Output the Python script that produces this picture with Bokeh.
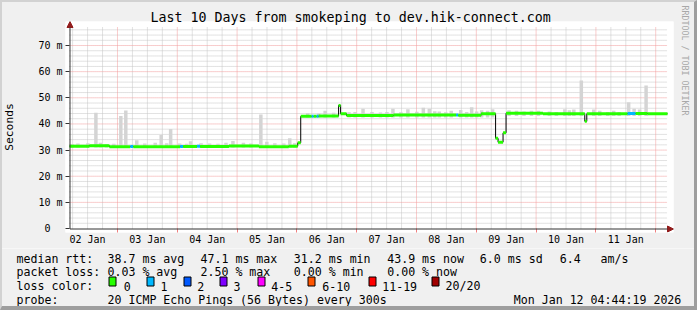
import math
from bokeh.plotting import figure
from bokeh.layouts import column
from bokeh.models import FixedTicker, Arrow, NormalHead, Range1d, Title, InlineStyleSheet
from bokeh.core.properties import value
from bokeh.embed import file_html
from bokeh.resources import INLINE

# ---------------- data ----------------
TITLE = "Last 10 Days from smokeping to dev.hik-connect.com"
START_H = 4 + 44 / 60 + 19 / 3600          # graph starts Jan 2 04:44:19
SPAN_H = 240                                # 10 days
day_labels = ["02 Jan", "03 Jan", "04 Jan", "05 Jan", "06 Jan",
              "07 Jan", "08 Jan", "09 Jan", "10 Jan", "11 Jan"]
y_tick_values = [0, 10, 20, 30, 40, 50, 60, 70]
y_tick_labels = ["0\u00a0\u00a0", "10 m", "20 m", "30 m", "40 m", "50 m", "60 m", "70 m"]
Y_LABEL = "Seconds"

# median rtt (ms), hours since start, loss class index
med_t = [0.0, 8.0, 16.0, 24.4, 25.6, 44.4, 45.6, 51.2, 52.4, 64.0, 76.0, 88.0,
         91.6, 92.8, 97.2, 98.0, 99.2, 100.0, 108.0, 108.8, 111.2, 130.0,
         155.2, 156.0, 165.2, 171.0, 172.0, 174.0, 175.2, 190.0, 206.8, 207.6,
         224.0, 227.2, 232.0]
med_v = [31.5, 31.7, 31.3, 31.4, 31.3, 31.4, 31.4, 31.5, 31.4, 31.6, 31.3, 31.5,
         32.8, 42.9, 42.9, 42.9, 42.9, 43.0, 47.1, 43.9, 43.2, 43.4,
         43.4, 43.3, 43.9, 34.5, 33.0, 36.6, 44.1, 43.9, 41.0, 43.9,
         44.0, 44.0, 43.9]
med_loss = [0, 0, 0, 1, 0, 1, 0, 1, 0, 0, 0, 0,
            0, 0, 1, 0, 1, 0, 0, 0, 0, 0,
            1, 0, 0, 0, 0, 0, 0, 0, 0, 0,
            1, 0, 0]

# smoke (spread of the 20 pings): centre hour, low, high (ms)
smoke_t = [1.0, 3.4, 7.4, 10.6, 12.4, 14.8, 17.8, 20.6, 22.6, 27.0, 30.2, 34.4,
           36.8, 39.0, 40.6, 44.2, 47.0, 48.6, 52.8, 56.2, 59.6, 62.8, 65.6, 69.8,
           72.8, 76.8, 79.2, 82.4, 86.0, 88.4, 90.4,
           95.6, 100.0, 102.6, 106.0, 112.2, 114.6, 117.8, 121.4, 124.8, 127.4,
           129.8, 133.0, 135.8, 139.4, 142.0, 144.4, 146.6, 148.4, 151.0, 153.2,
           157.0, 159.4, 161.4, 163.4, 165.4, 167.8, 169.8,
           176.4, 179.4, 182.4, 185.4, 188.2, 192.6, 195.4, 198.8, 200.6, 202.4,
           205.4, 210.4, 212.8, 216.0, 218.4, 220.6, 224.4, 226.6, 228.8, 231.4,
           234.4, 237.0]
smoke_lo = [31.0] * 31 + [42.5] * 27 + [43.0] * 20
smoke_hi = [32.3, 32.5, 32.6, 44.3, 32.8, 32.3, 32.4, 43.0, 45.1, 33.8, 32.5, 32.8,
            35.8, 32.6, 38.1, 32.5, 32.4, 33.4, 32.6, 32.5, 32.4, 32.8, 33.5, 32.8,
            32.5, 43.6, 33.2, 32.6, 32.5, 34.5, 32.6,
            44.2, 44.0, 45.0, 44.3, 44.5, 44.6, 45.8, 44.6, 44.4, 44.6,
            45.8, 44.5, 45.6, 44.7, 46.2, 45.8, 44.9, 44.8, 44.5, 45.0,
            45.3, 44.6, 46.4, 44.8, 45.2, 45.0, 45.6,
            45.2, 45.0, 44.8, 45.0, 45.0, 44.8, 44.6, 45.6, 45.2, 45.5,
            56.6, 45.5, 45.0, 44.6, 45.0, 44.6, 48.3, 45.8, 45.5, 54.7,
            45.4, 45.0]

loss_labels = ["0", "1", "2", "3", "4-5", "6-10", "11-19", "20/20"]
loss_colors = ["#26ff00", "#00b8ff", "#0059ff", "#7e00ff",
               "#ff00ff", "#ff5500", "#ff0000", "#a10000"]

rtt_row = ["median rtt:", "38.7 ms avg", "47.1 ms max", "31.2 ms min",
           "43.9 ms now", "6.0 ms sd", "6.4", "am/s"]
loss_row = ["packet loss:", "0.03 % avg", "2.50 % max", "0.00 % min", "0.00 % now"]
color_row = "loss color:"
probe_row = ["probe:", "20 ICMP Echo Pings (56 Bytes) every 300s",
             "Mon Jan 12 04:44:19 2026"]
VENDOR = "RRDTOOL / TOBI OETIKER"

# ---------------- geometry ----------------
W, H = 697, 310
HA = 248                         # height of the chart part
FL, FT, FR, FB = 63, 21, 673, 232  # frame edges (canvas px)
X0_PX, Y0_PX = 67, 228           # where t=0 and 0 ms sit
PX_PER_H = 2.5
PX_PER_MS = 26.14 / 10
MONO = "DejaVu Sans Mono"
YTOP = 76.9                       # top of the grid (ms)

x_lo = -(X0_PX - FL) / PX_PER_H
x_hi = (FR - X0_PX) / PX_PER_H
y_lo = -(FB - Y0_PX) / PX_PER_MS
y_hi = (Y0_PX - FT) / PX_PER_MS

p = figure(width=W, height=HA, output_backend="svg", toolbar_location=None,
           x_range=Range1d(x_lo, x_hi), y_range=Range1d(y_lo, y_hi),
           min_border_left=FL, min_border_right=W - FR,
           min_border_top=FT, min_border_bottom=HA - FB)
p.frame_align = False
p.background_fill_color = "#ffffff"
p.border_fill_color = "#f0f0f0"
p.outline_line_color = None
p.grid.visible = False

# title
p.title.text = TITLE
p.title.align = "left"
p.title.offset = 148 - FL
p.title.text_font = MONO
p.title.text_font_size = "13.3px"
p.title.text_font_style = "normal"
p.title.text_color = "#000000"
p.title.standoff = -7

# vendor watermark on the right
p.add_layout(Title(text=VENDOR, align="left", offset=-16, standoff=8,
                   vertical_align="top",
                   text_font=MONO, text_font_size="8.3px", text_font_style="normal",
                   text_color="#a8a8a8"), "right")

midnights = [24 - START_H + 24 * k for k in range(10)]
noons = [12 - START_H + 24 * k for k in range(10)]
six_h = [m + d for m in [midnights[0] - 24] + midnights for d in (6, 12, 18)]
six_h = [t for t in six_h if 0 < t < SPAN_H]
y_minor = [v for v in range(2, 77, 2) if v % 10]

AX = "#333333"
xa = p.xaxis[0]
xa.ticker = FixedTicker(ticks=noons, minor_ticks=midnights)
xa.major_label_overrides = {t: lab for t, lab in zip(noons, day_labels)}
xa.major_tick_line_color = None
xa.major_tick_out = 0
xa.major_tick_in = 0
xa.minor_tick_line_color = "#f08080"
xa.minor_tick_out = 0
xa.minor_tick_in = 4
xa.axis_line_color = None
xa.major_label_standoff = 1
xa.major_label_text_font = MONO
xa.major_label_text_font_size = "10px"
xa.major_label_text_color = "#000000"

ya = p.yaxis[0]
ya.ticker = FixedTicker(ticks=y_tick_values)
ya.major_label_overrides = {v: lab for v, lab in zip(y_tick_values, y_tick_labels)}
ya.major_tick_line_color = AX
ya.major_tick_out = 0
ya.major_tick_in = 4
ya.minor_tick_line_color = None
ya.axis_line_color = None
ya.major_label_standoff = 3
ya.major_label_text_font = MONO
ya.major_label_text_font_size = "10px"
ya.major_label_text_color = "#000000"
ya.axis_label = Y_LABEL
ya.axis_label_text_font = MONO
ya.axis_label_text_font_size = "11.3px"
ya.axis_label_text_font_style = "normal"
ya.axis_label_text_color = "#000000"
ya.axis_label_standoff = 19

# grid (dotted): minor grey, major red
GRID_MINOR = "#c4c4c4"
GRID_MAJOR = "#f29a9a"
p.segment(x0=six_h, x1=six_h, y0=[0] * len(six_h), y1=[YTOP] * len(six_h),
          line_color=GRID_MINOR, line_dash="1 1", line_width=1)
p.segment(x0=[0] * len(y_minor), x1=[SPAN_H] * len(y_minor), y0=y_minor, y1=y_minor,
          line_color=GRID_MINOR, line_dash="1 1", line_width=1)
p.segment(x0=midnights, x1=midnights, y0=[0] * len(midnights), y1=[YTOP] * len(midnights),
          line_color=GRID_MAJOR, line_dash="1 1", line_width=1)
y_major = y_tick_values[1:]
p.segment(x0=[0] * len(y_major), x1=[SPAN_H] * len(y_major), y0=y_major, y1=y_major,
          line_color=GRID_MAJOR, line_dash="1 1", line_width=1)

# smoke
p.quad(left=[t - 0.7 for t in smoke_t], right=[t + 0.7 for t in smoke_t],
       bottom=smoke_lo, top=smoke_hi, fill_color="#d4d4d4", line_color=None)

# median: thin black step, coloured thick segments by loss
ends = med_t[1:] + [SPAN_H]
p.step(x=med_t + [SPAN_H], y=med_v + [med_v[-1]], mode="after",
       line_color="#000000", line_width=1)
p.segment(x0=med_t, y0=med_v, x1=ends, y1=med_v,
          line_color=[loss_colors[l] for l in med_loss], line_width=3)

# axis lines with arrow heads
head_c = "#921c1c"
hx = 0.5 / PX_PER_H
hy = 0.5 / PX_PER_MS
p.add_layout(Arrow(x_start=hx, y_start=-hy, x_end=hx, y_end=y_hi,
                   line_color=AX, line_width=1,
                   end=NormalHead(size=6, fill_color=head_c, line_color=head_c)))
p.add_layout(Arrow(x_start=hx, y_start=-hy, x_end=x_hi, y_end=-hy,
                   line_color=AX, line_width=1,
                   end=NormalHead(size=6, fill_color=head_c, line_color=head_c)))

# ---------------- legend part (pixel layout) ----------------
HB = H - HA
q = figure(width=W, height=HB, output_backend="svg", toolbar_location=None,
           title=None, x_range=Range1d(0, W), y_range=Range1d(HB, 0),
           x_axis_type=None, y_axis_type=None,
           min_border=0, min_border_left=0, min_border_right=0,
           min_border_top=0, min_border_bottom=0)
q.frame_align = False
q.background_fill_color = "#f0f0f0"
q.border_fill_color = "#f0f0f0"
q.outline_line_color = None
q.grid.visible = False

rows_y = [258.0 - HA, 271.8 - HA, 285.6 - HA, 299.4 - HA]
rtt_x = [16, 107, 200, 293.3, 386.7, 479.3, 559.3, 600]
loss_x = [16, 107, 200, 293.3, 386.7]
box_x = [108, 146, 183, 219, 257, 307, 368, 431]
txt_x = [123.3, 160, 196.7, 233, 270.7, 321.7, 381.7, 445]
probe_x = [16, 107, 513.3]

tx, ty, tt = [], [], []
for s, x in zip(rtt_row, rtt_x):
    tx.append(x); ty.append(rows_y[0]); tt.append(s)
for s, x in zip(loss_row, loss_x):
    tx.append(x); ty.append(rows_y[1]); tt.append(s)
tx.append(16); ty.append(rows_y[2]); tt.append(color_row)
for s, x in zip(loss_labels, txt_x):
    tx.append(x); ty.append(rows_y[2]); tt.append(s)
for s, x in zip(probe_row, probe_x):
    tx.append(x); ty.append(rows_y[3]); tt.append(s)
q.text(x=tx, y=ty, text=tt, text_font=value(MONO), text_font_size=value("11.6px"),
       text_color="#000000", text_align="left", text_baseline="alphabetic")

q.quad(left=[b + 0.5 for b in box_x], right=[b + 7.5 for b in box_x],
       top=[276.5 - HA] * len(box_x), bottom=[285.5 - HA] * len(box_x),
       fill_color=loss_colors, line_color="#000000", line_width=1)

# shaded frame of the whole picture
css = InlineStyleSheet(css=(
    ":host{position:relative;}"
    ":host::after{content:'';position:absolute;left:0;top:0;width:697px;height:310px;"
    "box-sizing:border-box;border-style:solid;border-width:2px 3px 4px 2px;"
    "border-color:#d2d2d2 #9e9e9e #9e9e9e #d2d2d2;pointer-events:none;z-index:10;}"))
layout = column(p, q, spacing=0, stylesheets=[css])

open("out.html", "w").write(file_html(layout, INLINE))
